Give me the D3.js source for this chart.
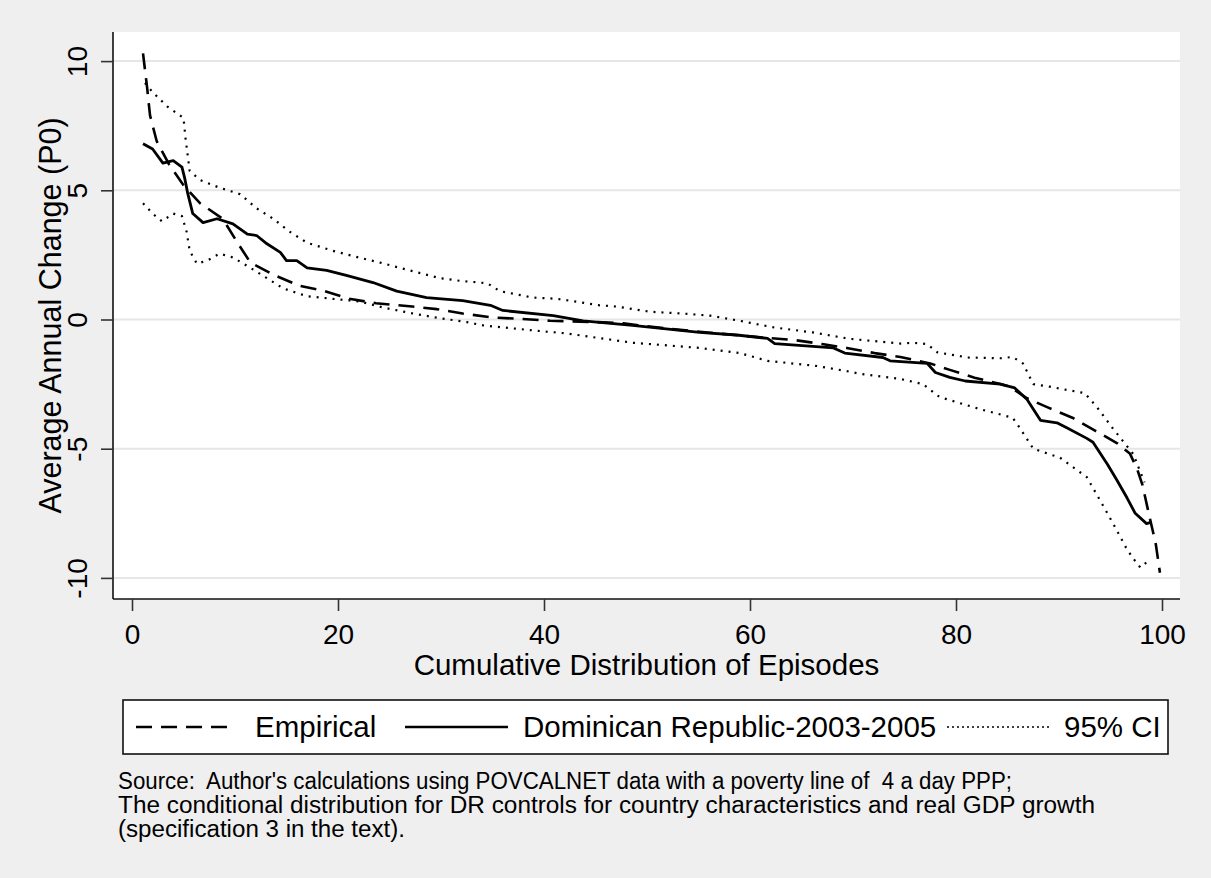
<!DOCTYPE html>
<html>
<head>
<meta charset="utf-8">
<script src="https://cdn.jsdelivr.net/npm/d3@7"></script>
<style>
  body { margin: 0; background: #efefef; }
  svg text { font-family: "Liberation Sans", Arial, sans-serif; fill: #000; }
</style>
</head>
<body>
<div id="chart"></div>
<script>
// values: [cumulative %, average annual change]
var empirical = [[1.07,10.3],[1.46,9.0],[1.75,7.9],[2.4,6.9],[3.6,6.0],[5.0,5.2],[6.6,4.5],[8.8,3.9],[10.2,3.0],[11.5,2.2],[13.9,1.7],[16.3,1.3],[18.7,1.1],[21.1,0.8],[23.7,0.63],[27.2,0.5],[29.6,0.4],[32.1,0.23],[35.0,0.08],[37.4,0.03],[40.6,-0.05],[45.1,-0.1],[47.7,-0.15],[51.9,-0.35],[57.1,-0.55],[61.9,-0.72],[64.4,-0.8],[67.0,-0.95],[69.4,-1.1],[72.1,-1.3],[74.6,-1.45],[77.5,-1.7],[79.4,-1.95],[81.8,-2.25],[84.3,-2.5],[85.2,-2.6],[86.9,-3.05],[88.9,-3.4],[91.3,-3.8],[93.5,-4.3],[95.7,-4.8],[96.9,-5.2],[97.6,-5.8],[98.1,-6.4],[98.6,-7.3],[99.0,-8.0],[99.4,-8.7],[99.8,-9.8]];

var drSeries = [[1.07,6.8],[2.0,6.6],[3.0,6.05],[4.0,6.15],[4.85,5.9],[5.1,5.5],[5.4,4.9],[5.9,4.1],[6.9,3.75],[8.25,3.9],[9.8,3.7],[11.2,3.3],[12.1,3.25],[13.1,2.93],[14.4,2.6],[15.0,2.28],[16.0,2.28],[17.0,2.0],[18.9,1.9],[20.9,1.7],[23.4,1.43],[25.7,1.1],[28.6,0.85],[32.1,0.73],[34.8,0.55],[36.0,0.35],[40.9,0.15],[43.8,-0.05],[48.6,-0.23],[55.1,-0.5],[58.7,-0.6],[61.7,-0.73],[62.4,-0.93],[68.1,-1.1],[69.2,-1.3],[72.9,-1.47],[73.6,-1.6],[77.2,-1.7],[78.0,-2.05],[79.4,-2.24],[80.9,-2.38],[84.3,-2.5],[85.7,-2.65],[86.9,-3.1],[88.2,-3.9],[89.8,-4.0],[90.8,-4.2],[92.7,-4.6],[93.3,-4.75],[94.7,-5.6],[95.6,-6.2],[96.6,-6.9],[97.4,-7.5],[98.5,-7.9],[98.9,-7.85]];

var ciUpper = [[1.26,9.15],[2.0,8.8],[3.4,8.25],[5.0,7.8],[5.2,7.0],[5.6,5.75],[6.6,5.4],[8.5,5.1],[10.5,4.85],[12.1,4.3],[13.7,3.9],[15.3,3.4],[17.0,2.97],[19.5,2.66],[22.1,2.39],[24.1,2.2],[26.0,2.0],[29.9,1.6],[31.8,1.5],[34.5,1.4],[35.7,1.1],[38.9,0.85],[41.3,0.8],[45.4,0.55],[47.1,0.5],[50.3,0.3],[53.5,0.23],[56.1,0.15],[59.0,-0.05],[62.2,-0.3],[66.1,-0.5],[69.7,-0.75],[74.6,-0.93],[75.8,-0.9],[77.2,-0.95],[78.2,-1.27],[81.1,-1.47],[84.3,-1.5],[85.5,-1.45],[86.5,-1.7],[87.5,-2.5],[89.1,-2.6],[90.4,-2.7],[92.5,-2.85],[93.7,-3.4],[95.2,-4.2],[96.6,-4.9],[97.2,-5.2],[98.3,-6.3]];

var ciLower = [[1.07,4.5],[2.0,4.1],[2.9,3.8],[4.0,4.1],[4.85,4.0],[5.3,3.4],[5.6,2.66],[6.3,2.16],[7.3,2.28],[8.5,2.55],[9.8,2.4],[11.5,2.0],[13.1,1.6],[14.7,1.2],[17.0,0.9],[19.5,0.8],[22.1,0.7],[24.4,0.46],[27.7,0.2],[29.9,0.05],[32.5,-0.1],[34.1,-0.23],[38.9,-0.42],[42.2,-0.54],[45.4,-0.72],[48.6,-0.9],[51.9,-1.0],[55.1,-1.1],[59.0,-1.3],[61.7,-1.6],[66.5,-1.8],[69.4,-2.0],[70.7,-2.1],[74.6,-2.3],[76.8,-2.5],[78.4,-3.0],[82.6,-3.5],[85.5,-3.8],[86.2,-4.2],[87.5,-5.0],[90.1,-5.35],[92.7,-6.1],[94.7,-7.5],[95.6,-8.15],[96.6,-8.9],[97.4,-9.35],[97.9,-9.6],[98.5,-9.4]];

var xTicks = [0, 20, 40, 60, 80, 100];
var yTicks = [-10, -5, 0, 5, 10];
var legendLabels = ["Empirical", "Dominican Republic-2003-2005", "95% CI"];
var noteLines = [
  "Source:  Author's calculations using POVCALNET data with a poverty line of  4 a day PPP;",
  "The conditional distribution for DR controls for country characteristics and real GDP growth",
  "(specification 3 in the text)."
];
var noteWidths = [894, 977, 287];

var W = 1211, H = 878;
var plotL = 113, plotR = 1180, plotT = 32, plotB = 599;

var svg = d3.select("#chart").append("svg").attr("width", W).attr("height", H);
svg.append("rect").attr("width", W).attr("height", H).attr("fill", "#efefef");

var x = d3.scaleLinear().domain([0, 100]).range([132, 1162]);
var y = d3.scaleLinear().domain([-10, 10]).range([577.9, 61.1]);
var plainFmt = function(d){ return String(d); };  // hyphen minus like the original

// plot region
svg.append("rect").attr("x", plotL).attr("y", plotT)
   .attr("width", plotR - plotL).attr("height", plotB - plotT).attr("fill", "#fff");

// grid
svg.selectAll(".grid").data(yTicks).enter().append("line")
   .attr("x1", plotL).attr("x2", plotR)
   .attr("y1", function(d){ return y(d); }).attr("y2", function(d){ return y(d); })
   .attr("stroke", "#e6e6e6").attr("stroke-width", 2);

// axes
var xAxis = svg.append("g").attr("transform", "translate(0," + plotB + ")")
   .call(d3.axisBottom(x).tickValues(xTicks).tickFormat(plainFmt).tickSize(12).tickSizeOuter(0));
xAxis.select(".domain").attr("d", "M" + plotL + ",0H" + plotR).attr("stroke", "#111").attr("stroke-width", 1.6);
xAxis.selectAll(".tick line").attr("stroke", "#333").attr("stroke-width", 1.6);
xAxis.selectAll(".tick text").attr("font-size", 28).attr("font-family", null).attr("dy", null).attr("y", 45);

var yAxis = svg.append("g").attr("transform", "translate(" + plotL + ",0)")
   .call(d3.axisLeft(y).tickValues(yTicks).tickFormat(plainFmt).tickSize(12).tickSizeOuter(0));
yAxis.select(".domain").attr("d", "M0," + plotT + "V" + plotB).attr("stroke", "#111").attr("stroke-width", 1.6);
yAxis.selectAll(".tick line").attr("stroke", "#333").attr("stroke-width", 1.6);
yAxis.selectAll(".tick text").attr("font-size", 28).attr("font-family", null)
   .attr("x", null).attr("dy", null).attr("text-anchor", "middle")
   .attr("transform", "translate(-26,0) rotate(-90)");

// titles
svg.append("text").attr("x", (plotL + plotR) / 2).attr("y", 675)
   .attr("text-anchor", "middle").attr("font-size", 29.5)
   .text("Cumulative Distribution of Episodes");
svg.append("text").attr("transform", "translate(61," + ((plotT + plotB) / 2) + ") rotate(-90)")
   .attr("text-anchor", "middle").attr("font-size", 30.5)
   .text("Average Annual Change (P0)");

// series
var line = d3.line().x(function(d){ return x(d[0]); }).y(function(d){ return y(d[1]); });
var styles = [
  {data: ciUpper, dash: "2,6", w: 2.2},
  {data: ciLower, dash: "2,6", w: 2.2},
  {data: empirical, dash: "16,9", w: 2.6},
  {data: drSeries, dash: null, w: 2.8}
];
styles.forEach(function(s){
  svg.append("path").datum(s.data).attr("d", line)
     .attr("fill", "none").attr("stroke", "#000").attr("stroke-width", s.w)
     .attr("stroke-dasharray", s.dash).attr("stroke-linejoin", "round");
});

// legend
var leg = svg.append("g");
leg.append("rect").attr("x", 123).attr("y", 700).attr("width", 1045).attr("height", 54)
   .attr("fill", "#fff").attr("stroke", "#111").attr("stroke-width", 1.6);
var legItems = [
  {x1: 136, x2: 233, tx: 255, dash: "16,9", w: 2.6},
  {x1: 405, x2: 508, tx: 523, dash: null, w: 2.6},
  {x1: 947, x2: 1050, tx: 1064, dash: "2,3", w: 1.6}
];
legItems.forEach(function(it, i){
  leg.append("line").attr("x1", it.x1).attr("x2", it.x2).attr("y1", 727).attr("y2", 727)
     .attr("stroke", "#000").attr("stroke-width", it.w).attr("stroke-dasharray", it.dash);
  leg.append("text").attr("x", it.tx).attr("y", 737).attr("font-size", 29.5).text(legendLabels[i]);
});

// note
svg.selectAll(".note").data(noteLines).enter().append("text")
   .attr("x", 118).attr("y", function(d, i){ return 789 + i * 24; })
   .attr("font-size", 23).style("white-space", "pre")
   .attr("textLength", function(d, i){ return noteWidths[i]; })
   .attr("lengthAdjust", "spacingAndGlyphs")
   .text(function(d){ return d; });
</script>
</body>
</html>
